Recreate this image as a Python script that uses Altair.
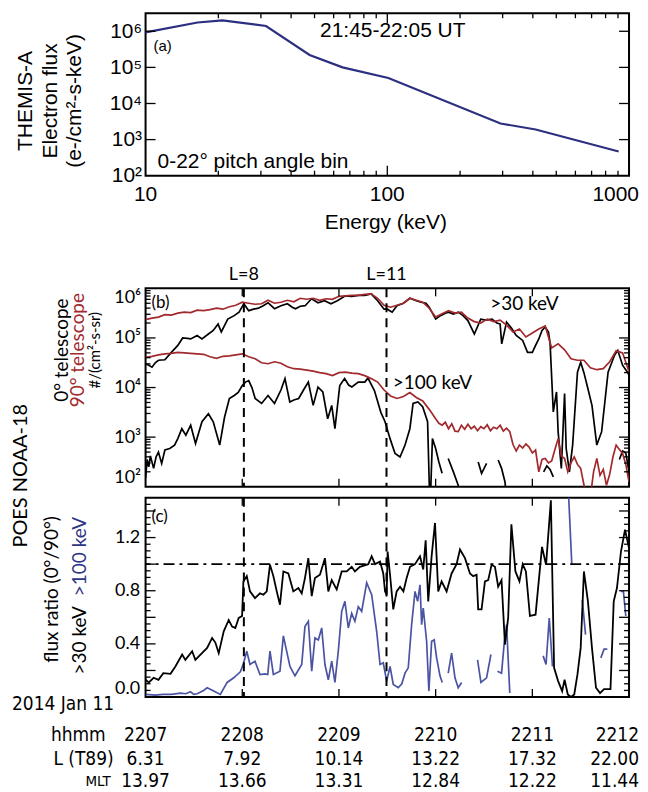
import altair as alt
import pandas as pd
import numpy as np

# ---------------- data ----------------
# Panel (a): THEMIS-A electron spectrum, 0-22 deg pitch angle bin
ENERGY_KEV = [10, 16.4, 20.8, 31.5, 47.7, 65.3, 101, 294, 411, 906]
FLUX_0_22 = [9.3e5, 1.75e6, 2.0e6, 1.4e6, 2.2e5, 1.0e5, 5.1e4, 2.8e3, 1.9e3, 4.7e2]
ENERGY_TICKS = [10, 100, 1000]

# Panel (b): POES NOAA-18 integral flux, log10(#/(cm2-s-sr)); time = seconds after 22:07:00 UT
T_R30 = [0, 4, 8, 12, 16, 20, 24, 28, 32, 36,
         40, 44, 48, 52, 56, 60, 64, 68, 72, 76,
         80, 84, 88, 92, 96, 100, 104, 108, 112, 116,
         120, 124, 128, 132, 136, 140, 144, 148, 152, 156,
         160, 164, 168, 172, 176, 180, 184, 188, 192, 196,
         200, 204, 208, 212, 216, 220, 224, 228, 232, 236,
         240, 244, 248, 252, 256, 260, 264, 268, 272, 276,
         280, 284, 288, 292, 296, 300]
LOG_R30 = [5.37, 5.40, 5.42, 5.47, 5.46, 5.50, 5.52, 5.51, 5.56, 5.55,
           5.57, 5.60, 5.58, 5.63, 5.66, 5.72, 5.70, 5.68, 5.69, 5.76,
           5.70, 5.72, 5.76, 5.73, 5.80, 5.78, 5.80, 5.76, 5.79, 5.78,
           5.84, 5.85, 5.86, 5.86, 5.88, 5.89, 5.80, 5.66, 5.62, 5.66,
           5.70, 5.80, 5.76, 5.72, 5.60, 5.42, 5.49, 5.55, 5.50, 5.52,
           5.40, 5.33, 5.30, 5.38, 5.33, 5.36, 5.26, 5.12, 5.18, 5.02,
           5.10, 5.18, 5.24, 4.80, 4.88, 4.76, 4.58, 4.55, 4.55, 4.40,
           4.36, 4.38, 4.52, 4.74, 4.70, 4.32]

T_R100 = [0, 4, 8, 12, 16, 20, 24, 28, 32, 36,
          40, 44, 48, 52, 56, 60, 64, 68, 72, 76,
          80, 84, 88, 92, 96, 100, 104, 108, 112, 116,
          120, 124, 128, 132, 136, 140, 144, 148, 152, 156,
          160, 164, 168, 172, 176, 180, 182, 184, 186, 188,
          190, 192, 194, 196, 198, 200, 202, 204, 206, 208,
          210, 212, 214, 216, 218, 220, 222, 224, 226, 228,
          230, 232, 234, 236, 238, 240, 242, 244, 246, 248,
          250, 252, 254, 256, 258, 260, 262, 264, 266, 268,
          270, 272, 274, 276, 278, 280, 282, 284, 286, 288,
          290, 292, 294, 296, 298, 300]
LOG_R100 = [4.61, 4.63, 4.66, 4.68, 4.69, 4.71, 4.70, 4.69, 4.68, 4.67,
            4.62, 4.59, 4.63, 4.64, 4.66, 4.68, 4.62, 4.58, 4.50, 4.48,
            4.52, 4.49, 4.42, 4.38, 4.37, 4.35, 4.33, 4.30, 4.28, 4.24,
            4.30, 4.31, 4.29, 4.28, 4.24, 4.18, 4.11, 3.95, 3.83, 3.78,
            3.82, 3.90, 3.80, 3.73, 3.56, 3.37, 3.28, 3.24, 3.30, 3.17,
            3.27, 3.12, 3.11, 3.24, 3.16, 3.26, 3.17, 3.22, 3.13, 3.21,
            3.17, 3.25, 3.13, 3.20, 3.17, 3.24, 3.12, 3.18, 3.11, 2.85,
            2.72, 2.84, 2.78, 2.86, 2.80, 2.68, 2.74, 2.30, 2.55, 2.57,
            2.48, 2.52, 2.75, 2.97, 2.62, 2.57, 2.30, 2.48, 2.60, 2.45,
            2.37, 2.04, 1.70, 1.80, 2.30, 2.57, 2.23, 2.35, 2.03, 2.25,
            2.60, 2.84, 2.75, 2.67, 2.45, 2.10]

T_B30 = [0, 2, 4, 6, 8, 12, 16, 20, 23, 26,
         28, 32, 35, 39, 42, 45, 47, 51, 55, 58,
         61, 64, 67, 70, 73, 76, 80, 84, 88, 91,
         93, 96, 99, 103, 107, 111, 115, 119, 124, 128,
         132, 136, 140, 144, 148, 150, 153, 156, 160, 164,
         168, 171, 174, 176, 180, 183, 186, 188, 191, 194,
         197, 200, 204, 208, 211, 215, 218, 220, 221, 224,
         227, 230, 234, 237, 240, 242, 244, 246, 248, 250,
         251, 253, 255, 256, 258, 260, 261, 263, 265, 268,
         270, 272, 274, 277, 280, 283, 287, 291, 293, 296,
         299, 300]
LOG_B30 = [4.48, 4.45, 4.41, 4.50, 4.55, 4.56, 4.71, 4.85, 5.00, 4.99,
           4.98, 5.05, 4.98, 5.08, 5.15, 5.28, 5.12, 5.38, 5.45, 5.52,
           5.69, 5.55, 5.58, 5.60, 5.65, 5.71, 5.59, 5.65, 5.69, 5.62,
           5.59, 5.64, 5.65, 5.79, 5.71, 5.75, 5.69, 5.75, 5.85, 5.84,
           5.86, 5.86, 5.89, 5.75, 5.58, 5.58, 5.52, 5.65, 5.70, 5.80,
           5.75, 5.72, 5.70, 5.62, 5.38, 5.45, 5.50, 5.52, 5.48, 5.52,
           5.45, 5.35, 5.08, 5.38, 5.36, 5.38, 5.30, 5.28, 4.88, 5.32,
           5.20, 5.05, 4.95, 4.71, 4.71, 4.85, 4.98, 5.15, 5.22, 5.12,
           4.90, 3.51, 3.91, 3.11, 2.37, 3.88, 2.77, 2.30, 2.84, 4.31,
           4.51, 4.30, 4.04, 3.64, 2.84, 3.11, 4.31, 4.65, 4.75, 4.45,
           4.31, 4.25]

# None marks a gap (zero counts) in the trace
T_B100 = [0, 1, 2, 3, 5, 6.5, 8, 10, 12, 15,
          18, 20, 22.5, 25, 28, 31, 35, 39, 42, 46,
          49, 52, 55, 57.5, 60, 62, 64, 66, 68, 72,
          76, 80, 84, 86.5, 89.5, 92, 95, 98, 101, 104,
          107, 110, 113, 115.5, 117.5, 120.5, 123.5, 126, 128, 132,
          136, 138, 142, 146, 148.6, 151.7, 154.8, 157.9, 161, 164,
          166, 169, 172, 175, 176.5, 178, 180, 182, 184, None,
          187.8, 191, 194, 196, None, 206.4, 208.5, 211.6, None, 218.8,
          220.9, 223, 225, None, 247, 249, 251, 253, None, 294,
          296, 298, 300]
LOG_B100 = [2.17, 2.55, 2.40, 2.62, 2.37, 2.60, 2.70, 2.47, 2.74, 2.77,
            2.84, 2.97, 3.17, 3.04, 3.24, 2.87, 3.31, 3.47, 3.31, 2.84,
            3.40, 3.78, 3.84, 3.90, 4.04, 4.11, 4.14, 4.00, 3.78, 3.68,
            3.84, 3.68, 3.95, 4.18, 3.71, 3.75, 3.78, 3.95, 4.11, 3.64,
            4.01, 3.91, 3.37, 3.64, 3.17, 4.04, 4.18, 4.05, 4.01, 4.11,
            4.11, 4.19, 3.94, 3.50, 3.31, 2.97, 2.67, 2.60, 2.84, 3.17,
            3.68, 3.71, 3.61, 3.31, 1.5, 2.97, 2.77, 2.50, 2.27, None,
            2.57, 2.30, 2.03, 1.5, None, 2.50, 2.27, 2.47, None, 2.54,
            2.37, 2.10, 1.5, None, 2.30, 2.42, 2.35, 2.20, None, 2.55,
            2.72, 2.68, 2.30]

# Panel (c): flux ratio 0/90 deg
T_K = [0, 2, 5, 8, 11, 15.5, 18.5, 22.7, 24.7, 28.9,
       30.9, 35, 38.2, 41.3, 43.3, 45.4, 48.5, 51.6, 53.7, 55.7,
       57.8, 59.9, 60.7, 62.8, 64.8, 67.9, 71, 73.1, 75.2, 77.2,
       79.3, 81.4, 83.4, 85.5, 88.6, 91.7, 94.8, 96.9, 98.9, 101,
       103.1, 105.1, 108.2, 111.3, 113.4, 115.5, 118.6, 121.7, 124.8, 127.9,
       129.9, 133, 138.2, 140.3, 142.4, 145.5, 147.5, 148.6, 149.6, 150.2,
       151.7, 153.7, 155.8, 157.9, 160, 162, 164.1, 167.2, 170.3, 172.3,
       173.8, 175.4, 177.5, 179.6, 181.6, 183.7, 186.8, 189.9, 193, 195.1,
       198.2, 201.3, 203.3, 205.4, 206.4, 208.5, 210.6, 212.6, 214.7, 216.8,
       218.8, 220.9, 223, 225, 227, 229.5, 232, 234, 236, 238.5,
       242, 246, 248.5, 251.5, 253.5, 256, 258.5, 260, 262, 264,
       266, 268, 270, 272, 274.5, 277, 279.5, 282, 284.5, 288.5,
       290.5, 292.5, 295, 297.5, 300]
RATIO_30 = [0.13, 0.11, 0.145, 0.13, 0.18, 0.175, 0.23, 0.32, 0.28, 0.345,
            0.28, 0.33, 0.37, 0.445, 0.41, 0.33, 0.495, 0.58, 0.53, 0.52,
            0.595, 0.61, 0.87, 0.91, 0.795, 0.745, 0.78, 0.77, 0.795, 0.995,
            0.91, 0.795, 0.695, 0.945, 0.93, 0.795, 0.82, 0.78, 0.895, 1.045,
            0.76, 0.895, 0.92, 1.045, 0.795, 0.88, 0.81, 0.945, 0.945, 0.98,
            0.945, 0.98, 1.0, 1.06, 1.0, 1.02, 0.93, 0.795, 0.77, 1.095,
            0.92, 0.66, 0.795, 0.83, 0.795, 0.895, 0.98, 1.0, 1.06, 0.96,
            1.18, 0.72, 1.06, 1.31, 0.795, 0.87, 0.795, 0.93, 1.0, 1.11,
            1.045, 0.93, 0.91, 0.92, 0.66, 0.66, 0.87, 0.88, 0.995, 0.98,
            0.83, 0.88, 0.395, 0.595, 1.3, 0.945, 0.87, 1.0, 0.945, 0.61,
            0.62, 1.13, 0.995, 1.48, 0.22, 0.12, 0.045, 0.13, 0.02, 0.0,
            0.02, 0.17, 0.37, 0.945, 0.72, 0.37, 0.07, 0.03, 0.06, 0.06,
            0.72, 0.82, 1.095, 1.26, 1.12]

T_U = [0, 6, 11, 16, 21.7, 25, 27.8, 30, 32, 36,
       38.2, 42.3, 46.4, 50.6, 54.7, 58.8, 60.7, 62.8, 64.8, 67.9,
       71, 74.1, 75.8, 77.2, 79.3, 83.4, 85.5, 89.6, 92.7, 96.9,
       98.9, 101, 103.1, 105.1, 107.2, 109.3, 111.3, 113.4, 115.5, 117.5,
       119.6, 121.7, 123.7, 125.8, 127.9, 129.9, 132, 134.1, 137.2, 140.3,
       143.4, 145.5, 147.5, 149.6, 151.7, 153.7, 156.8, 159, 161, 163,
       165.1, 167.2, 168.8, 170.3, 171.3, 172.3, 174.4, 175.8, 177.5, 179.1,
       180.6, 182.7, 184.1, None, 187.8, 189.9, 192, 194, 196.1, None,
       206, 208.1, 211.6, 214.3, None, 218.4, 220.9, 222.5, 224, 226,
       None, 246.7, 248.5, 250.5, 252.5, None, 262, 264.5, None, 271,
       273, None, 282.5, 284.5, 286.5, None, 295, 296.5, 298]
RATIO_100 = [0.02, 0.015, 0.02, 0.02, 0.03, 0.025, 0.04, 0.02, 0.025, 0.05,
             0.07, 0.045, 0.02, 0.11, 0.145, 0.19, 0.25, 0.345, 0.245, 0.27,
             0.17, 0.175, 0.17, 0.345, 0.17, 0.195, 0.46, 0.23, 0.16, 0.245,
             0.53, 0.57, 0.195, 0.445, 0.43, 0.52, 0.245, 0.13, 0.27, 0.11,
             0.345, 0.645, 0.72, 0.52, 0.63, 0.57, 0.68, 0.645, 0.86, 0.77,
             0.495, 0.245, 0.258, 0.12, 0.23, 0.095, 0.07, 0.10, 0.18, 0.22,
             0.545, 0.795, 0.72, 0.845, 0.545, 0.67, 0.42, 0.045, 0.42, 0.43,
             0.295, 0.16, 0.11, None, 0.18, 0.33, 0.145, 0.07, 0.11, None,
             0.28, 0.11, 0.145, 0.32, None, 0.195, 0.18, 0.40, 0.545, 0.03,
             None, 0.31, 0.245, 0.595, 0.23, None, 1.65, 0.995, None, 0.73,
             0.47, None, 0.295, 0.36, 0.36, None, 0.795, 0.795, 0.61]

MINUTES = [0, 60, 120, 180, 240, 300]
HHMM = ['2207', '2208', '2209', '2210', '2211', '2212']
L_T89 = ['6.31', '7.92', '10.14', '13.22', '17.32', '22.00']
MLT_VALS = ['13.97', '13.66', '13.31', '12.84', '12.22', '11.44']
L_MARKS = [61, 149.5]
L_MARK_TEXT = ['L=8', 'L=11']

# ---------------- style ----------------
FA = 'Liberation Sans, Arial, sans-serif'
FB = 'Lato, Open Sans, sans-serif'
FN = 'DejaVu Sans Condensed, Roboto Condensed, Lato, sans-serif'
RED = '#a2292d'
BLUE = '#4b54a3'
NAVY = '#2c2f80'
W, HA, HB, HC = 485, 163, 199, 200
SUP = "['\u2070','\u00b9','\u00b2','\u00b3','\u2074','\u2075','\u2076']"
ONE = pd.DataFrame({'k': [0]})


def segments(T, V, tname, vname):
    rows, seg = [], 0
    for t, v in zip(T, V):
        if t is None or v is None:
            seg += 1
            continue
        rows.append({tname: t, vname: v, 'g': seg})
    return pd.DataFrame(rows)


def label(text, x, y, size, font, color='black', angle=0, align='left', baseline='middle'):
    return alt.Chart(ONE).mark_text(text=text, fontSize=size, font=font, color=color,
                                    angle=angle, align=align, baseline=baseline).encode(
        x=alt.value(x), y=alt.value(y))


def yticks(vals, field, yenc, length, width=1.3):
    df = pd.DataFrame({field: vals})
    left = alt.Chart(df).mark_rule(color='black', strokeWidth=width).encode(
        y=yenc, x=alt.value(0), x2=alt.value(length))
    right = alt.Chart(df).mark_rule(color='black', strokeWidth=width).encode(
        y=yenc, x=alt.value(W - length), x2=alt.value(W))
    return [left, right]


def xticks(vals, field, xenc, length, H, width=1.3):
    df = pd.DataFrame({field: vals})
    bot = alt.Chart(df).mark_rule(color='black', strokeWidth=width).encode(
        x=xenc, y=alt.value(H - length), y2=alt.value(H))
    top = alt.Chart(df).mark_rule(color='black', strokeWidth=width).encode(
        x=xenc, y=alt.value(0), y2=alt.value(length))
    return [bot, top]


# ---------------- panel (a) ----------------
xa = alt.X('E:Q', scale=alt.Scale(type='log', domain=[10, 1000], nice=False),
           axis=alt.Axis(labels=False, ticks=False, tickSize=0, domain=False, grid=False, title=None))
ya = alt.Y('F:Q', scale=alt.Scale(type='log', domain=[100, 10 ** 6.5], nice=False),
           axis=alt.Axis(values=[1e2, 1e3, 1e4, 1e5, 1e6],
                         labelExpr="'10' + " + SUP + "[round(log(datum.value)/LN10)]",
                         labelFont=FA, labelFontSize=21, labelColor='black', labelPadding=4,
                         ticks=False, tickSize=0, domain=False, grid=False, title=None,
                         labelFlush=False))
dfa = pd.DataFrame({'E': ENERGY_KEV, 'F': FLUX_0_22})
a_line = alt.Chart(dfa).mark_line(color=NAVY, strokeWidth=2.2).encode(x=xa, y=ya)
a_layers = [a_line]
a_layers += xticks([100], 'E', xa, 10, HA)
a_layers += xticks([20, 30, 40, 50, 60, 70, 80, 90, 200, 300, 400, 500, 600, 700, 800, 900],
                   'E', xa, 5, HA)
a_layers += yticks([1e3, 1e4, 1e5, 1e6], 'F', ya, 10)
dfe = pd.DataFrame({'E': ENERGY_TICKS[:2], 'lab': ['10', '100']})
a_layers += [
    alt.Chart(dfe).mark_text(font=FA, fontSize=21, baseline='middle').encode(
        x=xa, y=alt.value(HA + 19), text='lab:N'),
    alt.Chart(pd.DataFrame({'E': ENERGY_TICKS[2:], 'lab': ['1000']})).mark_text(
        font=FA, fontSize=21, baseline='middle', align='right', dx=10).encode(
        x=xa, y=alt.value(HA + 19), text='lab:N'),
    label('Energy (keV)', 241, HA + 47, 21, FA, align='center'),
    label('(a)', 8, 33, 15, FA),
    label('21:45-22:05 UT', 248, 18, 21, FA, align='center'),
    label('0-22\u00b0 pitch angle bin', 12, 149, 21, FA),
    label('THEMIS-A', -120, 88, 21, FA, angle=270, align='center'),
    label('Electron flux', -95, 88, 21, FA, angle=270, align='center'),
    label('(e-/cm\u00b2-s-keV)', -71, 88, 21, FA, angle=270, align='center'),
]
pa = alt.layer(*a_layers).properties(width=W, height=HA)

# ---------------- panel (b) ----------------
xb = alt.X('t:Q', scale=alt.Scale(domain=[0, 300], nice=False, zero=False), axis=None)
yb = alt.Y('v:Q', scale=alt.Scale(domain=[2, 6], nice=False, zero=False),
           axis=alt.Axis(values=[2, 3, 4, 5, 6], labelExpr="'10' + " + SUP + "[datum.value]",
                         labelFont=FB, labelFontSize=18, labelColor='black', labelPadding=5,
                         ticks=False, tickSize=0, domain=False, grid=False, title=None,
                         labelFlush=True))
df_b30 = segments(T_B30, LOG_B30, 't', 'v')
df_b100 = segments(T_B100, LOG_B100, 't', 'v')
df_r30 = segments(T_R30, LOG_R30, 't', 'v')
df_r100 = segments(T_R100, LOG_R100, 't', 'v')


def bline(df, color, sw=1.7):
    return alt.Chart(df).mark_line(color=color, strokeWidth=sw, clip=True).encode(
        x=xb, y=yb, detail='g:N')


b_layers = [bline(df_b30, 'black'), bline(df_b100, 'black'),
            bline(df_r30, RED), bline(df_r100, RED)]
dfL = pd.DataFrame({'t': L_MARKS, 'lab': L_MARK_TEXT})
b_layers.append(alt.Chart(dfL).mark_rule(color='black', strokeWidth=2, strokeDash=[9, 6]).encode(x=xb))
b_layers.append(alt.Chart(dfL).mark_text(font=FB, fontSize=18, baseline='middle').encode(
    x=xb, y=alt.value(-13), text='lab:N'))
minor_b = [n + np.log10(k) for n in range(2, 6) for k in range(2, 10)]
b_layers += yticks([3, 4, 5], 'v', yb, 10)
b_layers += yticks(minor_b, 'v', yb, 5)
b_layers += xticks([60, 120, 180, 240], 't', xb, 8, HB)
b_layers += [
    label('(b)', 6, 15, 17, FB),
    label('>30 keV', 380, 16, 19, FB, align='center'),
    label('>100 keV', 248, 95, 19, FB),
    label('0\u00b0 telescope', -84, 62, 19, FB, angle=270, align='center'),
    label('90\u00b0 telescope', -68, 62, 19, FB, color=RED, angle=270, align='center'),
    label('#/(cm\u00b2-s-sr)', -51, 62, 15, FB, angle=270, align='center'),
    label('POES NOAA-18', -125, 188, 20, FB, angle=270, align='center'),
]
pb = alt.layer(*b_layers).properties(width=W, height=HB)

# ---------------- panel (c) ----------------
xc = alt.X('t:Q', scale=alt.Scale(domain=[0, 300], nice=False, zero=False), axis=None)
yc = alt.Y('r:Q', scale=alt.Scale(domain=[0, 1.5], nice=False, zero=False),
           axis=alt.Axis(values=[0, 0.4, 0.8, 1.2], format='.1f',
                         labelFont=FB, labelFontSize=18, labelColor='black', labelPadding=6,
                         ticks=False, tickSize=0, domain=False, grid=False, title=None,
                         labelFlush=True))
df_k = segments(T_K, RATIO_30, 't', 'r')
df_u = segments(T_U, RATIO_100, 't', 'r')
c_layers = [
    alt.Chart(df_u).mark_line(color=BLUE, strokeWidth=1.7, clip=True).encode(x=xc, y=yc, detail='g:N'),
    alt.Chart(df_k).mark_line(color='black', strokeWidth=1.8, clip=True).encode(x=xc, y=yc, detail='g:N'),
    alt.Chart(pd.DataFrame({'t': L_MARKS})).mark_rule(color='black', strokeWidth=2,
                                                      strokeDash=[9, 6]).encode(x=xc),
    alt.Chart(pd.DataFrame({'r': [1.0]})).mark_rule(color='black', strokeWidth=1.8,
                                                    strokeDash=[11, 5, 3, 5]).encode(y=yc),
]
c_layers += yticks([0.2, 0.4, 0.6, 0.8, 1.0, 1.2, 1.4], 'r', yc, 10)
c_layers += yticks([0.05, 0.1, 0.15, 0.25, 0.3, 0.35, 0.45, 0.5, 0.55, 0.65, 0.7, 0.75,
                    0.85, 0.9, 0.95, 1.05, 1.1, 1.15, 1.25, 1.3, 1.35, 1.45], 'r', yc, 5)
c_layers += xticks([60, 120, 180, 240], 't', xc, 8, HC)
dfrow = pd.DataFrame({'t': MINUTES, 'hhmm': HHMM, 'L': L_T89, 'mlt': MLT_VALS})
ROW_Y = [('hhmm', 238), ('L', 262), ('mlt', 284)]
for field, yy in ROW_Y:
    c_layers.append(alt.Chart(dfrow.iloc[:5]).mark_text(font=FN, fontSize=19, baseline='middle').encode(
        x=xc, y=alt.value(yy), text=f'{field}:N'))
    c_layers.append(alt.Chart(dfrow.iloc[5:]).mark_text(font=FN, fontSize=19, baseline='middle',
                                                        align='right', dx=10).encode(
        x=xc, y=alt.value(yy), text=f'{field}:N'))
c_layers += [
    label('(c)', 6, 19, 17, FB),
    label('flux ratio (0\u00b0/90\u00b0)', -94, 92, 19, FB, angle=270, align='center'),
    label('>30 keV', -66, 143, 19, FB, angle=270, align='center'),
    label('>100 keV', -66, 59, 19, FB, color='#2e3586', angle=270, align='center'),
    label('2014 Jan 11', -134, 207, 19, FN),
    label('hhmm', -40, 238, 19, FN, align='right'),
    label('L (T89)', -32, 262, 19, FN, align='right'),
    label('MLT', -35, 284, 15, FN, align='right'),
]
pc = alt.layer(*c_layers).properties(width=W, height=HC)


def spacer(h):
    return alt.Chart(ONE).mark_point(opacity=0).encode(
        x=alt.value(0), y=alt.value(0)).properties(
        width=W, height=h, view=alt.ViewBackground(strokeOpacity=0, strokeWidth=0))


chart = alt.vconcat(pa, spacer(113), pb, spacer(11), pc, spacing=0, bounds='flush').properties(
    padding={'left': 2, 'top': 2, 'right': 0, 'bottom': 0}
).configure_view(stroke='black', strokeWidth=2)

chart.save('out.html', embed_options={'renderer': 'svg', 'actions': False})
